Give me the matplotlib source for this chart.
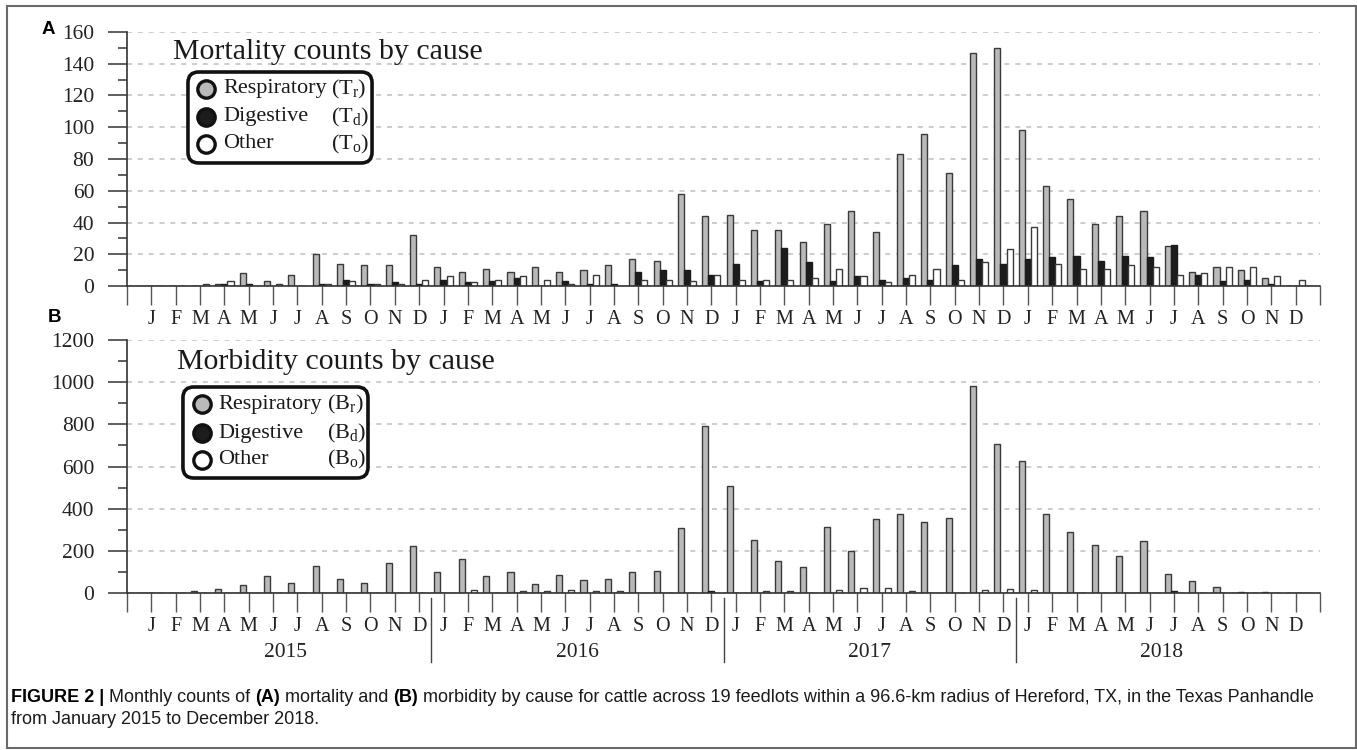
import numpy as np
import matplotlib.pyplot as plt
import matplotlib.transforms as mtransforms
from matplotlib.patches import FancyBboxPatch, Rectangle
from matplotlib.lines import Line2D

plt.rcParams['font.family'] = ['Liberation Serif', 'DejaVu Serif']
plt.rcParams['mathtext.fontset'] = 'custom'
plt.rcParams['mathtext.rm'] = 'Liberation Serif'
plt.rcParams['mathtext.it'] = 'Liberation Serif:italic'

# monthly data, Jan 2015 .. Dec 2018
months = ['J', 'F', 'M', 'A', 'M', 'J', 'J', 'A', 'S', 'O', 'N', 'D'] * 4
years = ['2015', '2016', '2017', '2018']

mort_resp = [0, 0, 0, 1.5, 8, 3, 7, 20, 14, 13, 13, 32,
             12, 9, 11, 9, 12, 9, 10, 13, 17, 16, 58, 44,
             45, 35, 35, 28, 39, 47, 34, 83, 96, 71, 147, 150,
             98, 63, 55, 39, 44, 47, 25, 9, 12, 10, 5, 0]
mort_dig = [0, 0, 0, 1, 1, 0, 0, 1, 4, 1, 2.5, 1,
            4, 2.5, 3, 5, 0, 3, 1, 1.5, 9, 10, 10, 7,
            14, 3, 24, 15, 3, 6, 4, 5, 4, 13, 17, 14,
            17, 18, 19, 16, 19, 18, 26, 7, 3, 4, 1, 0]
mort_oth = [0, 0, 1.5, 3, 0, 1.5, 0, 1.5, 3, 1.5, 1.5, 4,
            6, 2.5, 4, 6, 4, 1.3, 6.7, 0, 4, 4, 3, 7,
            4, 4, 4, 5, 11, 6, 2.5, 7, 11, 4, 15, 23,
            37, 14, 11, 11, 13, 12, 7, 8, 12, 12, 6, 4]

morb_resp = [2, 0, 11, 21, 40, 83, 48, 130, 68, 48, 143, 222,
             98, 159, 83, 98, 43, 84, 63, 68, 98, 103, 308, 793,
             509, 253, 150, 124, 313, 201, 352, 373, 338, 355, 982, 707,
             627, 373, 287, 227, 175, 245, 90, 55, 30, 3, 3, 0]
morb_dig = [0, 0, 0, 2, 0, 0, 0, 2, 2, 2, 2, 0,
            2, 2, 2, 2, 2, 2, 2, 2, 2, 2, 2, 9,
            2, 2, 2, 2, 2, 2, 2, 2, 2, 2, 2, 2,
            2, 2, 2, 2, 2, 2, 9, 2, 2, 2, 2, 0]
morb_oth = [0, 0, 2, 2, 0, 2, 0, 2, 2, 2, 2, 0,
            2, 12, 2, 9, 9, 12, 9, 9, 2, 2, 0, 2,
            2, 9, 9, 2, 12, 22, 22, 9, 2, 2, 13, 20,
            13, 2, 2, 2, 2, 2, 2, 2, 2, 2, 2, 0]

W, H = 1357, 750
fig = plt.figure(figsize=(W / 100, H / 100), dpi=100)


def px_axes(left, right, top, bottom):
    return [left / W, 1 - bottom / H, (right - left) / W, (bottom - top) / H]


axA = fig.add_axes(px_axes(127, 1320, 32, 286))
axB = fig.add_axes(px_axes(127, 1320, 340, 593))

gray = '#b9b9b9'
edge = '#3a3a3a'


def draw_panel(ax, resp, dig, oth, ymax, major, minor):
    x = np.arange(1, 49)
    w = 0.25
    ax.bar(x - w, resp, w, color=gray, edgecolor=edge, lw=1.0, zorder=3)
    ax.bar(x, dig, w, color='#1c1c1c', edgecolor='#1c1c1c', lw=1.0, zorder=3)
    ax.bar(x + w, oth, w, color='white', edgecolor=edge, lw=1.0, zorder=3)
    ax.set_xlim(0, 49)
    ax.set_ylim(0, ymax)
    ax.set_yticks(np.arange(0, ymax + 1, major))
    ax.set_yticks(np.arange(0, ymax + 1, minor), minor=True)
    ax.yaxis.grid(True, which='major', ls=(0, (3, 3.5)), color='#c4c4c4', lw=1.2)
    ax.set_axisbelow(True)
    ax.set_xticks(np.arange(0, 50))
    ax.set_xticklabels([''] + months + [''])
    for s in ['top', 'right']:
        ax.spines[s].set_visible(False)
    for s in ['left', 'bottom']:
        ax.spines[s].set_color('#333333')
        ax.spines[s].set_linewidth(1.2)
        ax.spines[s].set_zorder(4)
    ax.tick_params(axis='y', which='major', length=13.5, width=1.1, color='#333333',
                   labelsize=15.5, labelcolor='#222222', pad=10)
    ax.tick_params(axis='y', which='minor', length=6.5, width=1.1, color='#333333')
    ax.tick_params(axis='x', which='major', length=13.5, width=1.0, color='#555555',
                   labelsize=14.5, labelcolor='#222222', pad=4)


def draw_legend(ax, box, mx, tx, px, rows, letter):
    x0, y0, x1, y1 = box
    bb = ax.get_window_extent()
    aspect = bb.width / bb.height
    ax.add_patch(FancyBboxPatch((x0, y0), x1 - x0, y1 - y0,
                                boxstyle='round,pad=0,rounding_size=0.009',
                                mutation_aspect=aspect, transform=ax.transAxes,
                                fc='white', ec='#111111', lw=2.6, zorder=6, clip_on=False))
    entries = [('Respiratory', gray, 'r'), ('Digestive', '#1c1c1c', 'd'), ('Other', 'white', 'o')]
    for (label, fc, sub), y in zip(entries, rows):
        ax.plot([mx], [y], marker='o', ms=12.5, mfc=fc, mec='#111111', mew=2.4,
                transform=ax.transAxes, clip_on=False, zorder=7)
        ax.text(tx, y, label, transform=ax.transAxes, va='center', fontsize=16,
                color='#1a1a1a', zorder=7)
        ax.text(px, y, '(' + letter + r'$_\mathrm{' + sub + '}$)', transform=ax.transAxes,
                va='center', fontsize=16, color='#1a1a1a', zorder=7)


draw_panel(axA, mort_resp, mort_dig, mort_oth, 160, 20, 10)
draw_panel(axB, morb_resp, morb_dig, morb_oth, 1200, 200, 100)

axA.text(0.0386, 0.894, 'Mortality counts by cause', transform=axA.transAxes,
         fontsize=21.5, va='baseline', color='#1a1a1a')
axB.text(0.0419, 0.885, 'Morbidity counts by cause', transform=axB.transAxes,
         fontsize=21.5, va='baseline', color='#1a1a1a')

draw_legend(axA, (0.0511, 0.4843, 0.2054, 0.8425), 0.0662, 0.0805, 0.171,
            [0.7756, 0.6654, 0.5591], 'T')
draw_legend(axB, (0.0469, 0.4545, 0.2020, 0.8142), 0.0629, 0.0763, 0.1676,
            [0.747, 0.632, 0.526], 'B')

# year labels and separators under panel B
trans = mtransforms.blended_transform_factory(axB.transData, axB.transAxes)
for i, yr in enumerate(years):
    axB.text(6.5 + 12 * i, -0.237, yr, transform=trans, ha='center', va='center',
             fontsize=15.5, color='#222222')
for i in range(1, 4):
    axB.add_line(Line2D([12 * i + 0.5] * 2, [-0.02, -0.273], transform=trans,
                        color='#444444', lw=1.0, clip_on=False))

# panel letters
fig.text(42 / W, 1 - 29 / H, 'A', family=['Liberation Sans', 'DejaVu Sans'],
         weight='bold', fontsize=13.5, va='center')
fig.text(48 / W, 1 - 318 / H, 'B', family=['Liberation Sans', 'DejaVu Sans'],
         weight='bold', fontsize=13.5, va='center')

# frame
fig.add_artist(Rectangle((7 / W, 2 / H), 1349 / W, 742 / H, transform=fig.transFigure,
                         fill=False, ec='#6a6a6a', lw=1.5))

# caption: sized so that the first line spans the same width as in the figure
cap_font = ['Liberation Sans', 'DejaVu Sans']
parts = [('FIGURE 2 | ', 'bold'), ('Monthly counts of ', 'normal'), ('(A)', 'bold'),
         (' mortality and ', 'normal'), ('(B)', 'bold'),
         (' morbidity by cause for cattle across 19 feedlots within a 96.6-km radius of '
          'Hereford, TX, in the Texas Panhandle', 'normal')]
renderer = fig.canvas.get_renderer()


def caption_line(size):
    texts = []
    x = 11 / W
    for s, wt in parts:
        t = fig.text(x, 1 - 697 / H, s, family=cap_font, weight=wt, fontsize=size,
                     va='center', color='#1a1a1a' if wt == 'normal' else 'black')
        x += t.get_window_extent(renderer).width / W
        texts.append(t)
    return texts, x * W - 11


texts, width = caption_line(12)
for t in texts:
    t.remove()
cap_size = 12 * 1309 / width
caption_line(cap_size)
fig.text(11 / W, 1 - 719 / H, 'from January 2015 to December 2018.', family=cap_font,
         fontsize=cap_size, va='center', color='#1a1a1a')

fig.savefig('out.png', dpi=100)
